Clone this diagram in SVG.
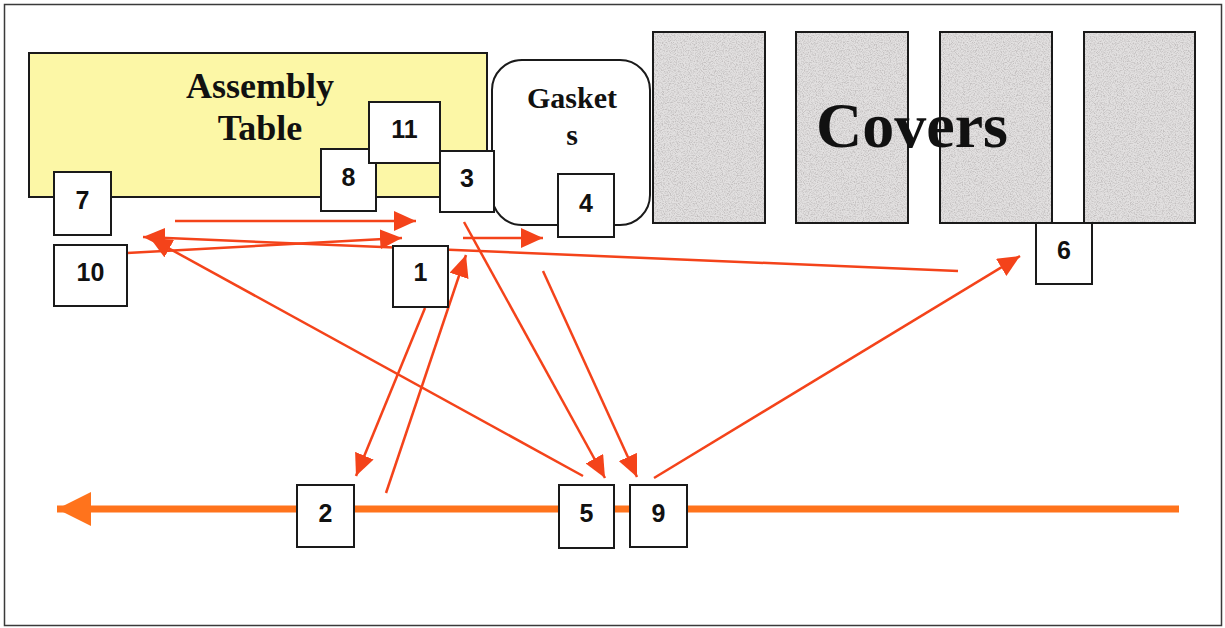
<svg xmlns="http://www.w3.org/2000/svg" width="1225" height="628" viewBox="0 0 1225 628">
  <style>
    .frame { fill: #ffffff; stroke: #3a3a3a; stroke-width: 1.5; }
    .box { fill: #ffffff; stroke: #1a1a1a; stroke-width: 2; }
    .num { font-family: "Liberation Sans", Arial, sans-serif; font-weight: bold; font-size: 25px; fill: #111111; text-anchor: middle; }
    .label { font-family: "Liberation Serif", "Times New Roman", serif; font-weight: bold; fill: #111111; text-anchor: middle; }
    .cover-fill { fill: #e2e0e0; }
    .cover-edge { fill: none; stroke: #1a1a1a; stroke-width: 2; }
    .flow { fill: none; stroke: #f4431a; stroke-width: 2.5; marker-end: url(#head); }
    .aisle { fill: none; stroke: #ff731c; stroke-width: 7; marker-end: url(#bighead); }
  </style>
  <defs>
    <marker id="head" markerUnits="userSpaceOnUse" markerWidth="22" markerHeight="20" refX="22" refY="10" orient="auto" viewBox="0 0 22 20">
      <path d="M0,0 L22,10 L0,20 Z" fill="#f4431a"/>
    </marker>
    <marker id="bighead" markerUnits="userSpaceOnUse" markerWidth="34" markerHeight="34" refX="34" refY="17" orient="auto" viewBox="0 0 34 34">
      <path d="M0,0 L34,17 L0,34 Z" fill="#ff731c"/>
    </marker>
    <!-- speckled grey finish for the cover stacks -->
    <filter id="grain" x="0" y="0" width="100%" height="100%">
      <feTurbulence type="fractalNoise" baseFrequency="0.85" numOctaves="2" seed="7" result="noise"/>
      <feColorMatrix in="noise" type="matrix" values="0 0 0 0 0.55  0 0 0 0 0.53  0 0 0 0 0.53  3 0 0 0 -1.25" result="specks"/>
      <feComposite in="specks" in2="SourceGraphic" operator="in" result="clipped"/>
      <feMerge>
        <feMergeNode in="SourceGraphic"/>
        <feMergeNode in="clipped"/>
      </feMerge>
    </filter>
  </defs>

  <!-- outer frame -->
  <rect class="frame" x="4.5" y="4.5" width="1217" height="621"/>

  <!-- assembly table -->
  <g id="assembly-table">
    <rect x="29" y="53" width="458" height="144" fill="#fcf7a6" stroke="#1a1a1a" stroke-width="2"/>
    <text class="label" x="260" y="98" font-size="36">Assembly</text>
    <text class="label" x="260" y="140" font-size="36">Table</text>
  </g>

  <!-- gasket bin -->
  <g id="gaskets">
    <rect x="492" y="60" width="158" height="165" rx="30" ry="30" fill="#ffffff" stroke="#1a1a1a" stroke-width="2"/>
    <text class="label" x="572" y="108" font-size="30">Gasket</text>
    <text class="label" x="572" y="145" font-size="30">s</text>
  </g>

  <!-- cover stacks -->
  <g id="covers">
    <g filter="url(#grain)">
      <rect class="cover-fill" x="653" y="32" width="112" height="191"/>
      <rect class="cover-fill" x="796" y="32" width="112" height="191"/>
      <rect class="cover-fill" x="940" y="32" width="112" height="191"/>
      <rect class="cover-fill" x="1084" y="32" width="111" height="191"/>
    </g>
    <rect class="cover-edge" x="653" y="32" width="112" height="191"/>
    <rect class="cover-edge" x="796" y="32" width="112" height="191"/>
    <rect class="cover-edge" x="940" y="32" width="112" height="191"/>
    <rect class="cover-edge" x="1084" y="32" width="111" height="191"/>
    <text class="label" x="912" y="147" font-size="64">Covers</text>
  </g>

  <!-- walking paths between stations -->
  <g id="connectors">
    <line class="aisle" x1="1179" y1="509" x2="57" y2="509"/>
    <line class="flow" x1="175" y1="221" x2="416" y2="221"/>
    <line class="flow" x1="127" y1="253" x2="402" y2="238"/>
    <line class="flow" x1="958" y1="271" x2="143" y2="237"/>
    <line class="flow" x1="583" y1="476" x2="150" y2="238"/>
    <line class="flow" x1="463" y1="238" x2="543" y2="238"/>
    <line class="flow" x1="464" y1="222" x2="605" y2="478"/>
    <line class="flow" x1="543" y1="271" x2="637" y2="477"/>
    <line class="flow" x1="425" y1="308" x2="356" y2="476"/>
    <line class="flow" x1="386" y1="493" x2="466" y2="255"/>
    <line class="flow" x1="654" y1="478" x2="1020" y2="256"/>
  </g>

  <!-- numbered stations -->
  <g id="step-7"><rect class="box" x="54" y="172" width="57" height="63"/><text class="num" x="82.5" y="209">7</text></g>
  <g id="step-10"><rect class="box" x="54" y="245" width="73" height="61"/><text class="num" x="90.5" y="281">10</text></g>
  <g id="step-8"><rect class="box" x="321" y="149" width="55" height="62"/><text class="num" x="348.5" y="186">8</text></g>
  <g id="step-11"><rect class="box" x="369" y="102" width="71" height="61"/><text class="num" x="404.5" y="138">11</text></g>
  <g id="step-3"><rect class="box" x="440" y="151" width="54" height="61"/><text class="num" x="467" y="187">3</text></g>
  <g id="step-4"><rect class="box" x="558" y="174" width="56" height="63"/><text class="num" x="586" y="212">4</text></g>
  <g id="step-1"><rect class="box" x="393" y="246" width="55" height="61"/><text class="num" x="420.5" y="281">1</text></g>
  <g id="step-6"><rect class="box" x="1036" y="223" width="56" height="61"/><text class="num" x="1064" y="259">6</text></g>
  <g id="step-2"><rect class="box" x="297" y="485" width="57" height="62"/><text class="num" x="325.5" y="522">2</text></g>
  <g id="step-5"><rect class="box" x="559" y="485" width="55" height="63"/><text class="num" x="586.5" y="522">5</text></g>
  <g id="step-9"><rect class="box" x="630" y="485" width="57" height="62"/><text class="num" x="658.5" y="522">9</text></g>
</svg>
